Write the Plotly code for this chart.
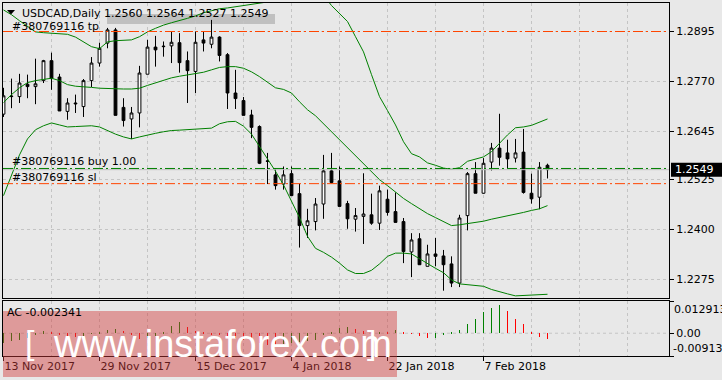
import plotly.graph_objects as go

# ---------------- data ----------------
bar_index = list(range(69))
date_tick_index = [0, 12, 24, 36, 48, 60]
date_tick_text = ["13 Nov 2017", "29 Nov 2017", "15 Dec 2017", "4 Jan 2018", "22 Jan 2018", "7 Feb 2018"]
grid_minor_index = [6, 18, 30, 42, 54, 66, 72, 78]

opens = [1.2688, 1.2732, 1.2732, 1.2763, 1.2757, 1.2772, 1.2822, 1.2781, 1.2695, 1.2716,
         1.2707, 1.2772, 1.2816, 1.2866, 1.2899, 1.2705, 1.2676, 1.2691, 1.2788, 1.2856,
         1.2857, 1.2859, 1.2867, 1.2822, 1.2795, 1.2874, 1.2863, 1.2881, 1.2837, 1.2741,
         1.2722, 1.2686, 1.2657, 1.2571, 1.2536, 1.2513, 1.2539, 1.2489, 1.2409, 1.2419,
         1.2463, 1.2546, 1.2521, 1.2464, 1.2425, 1.2432, 1.2436, 1.2415, 1.2475, 1.2444,
         1.2419, 1.2343, 1.2376, 1.2307, 1.2338, 1.2333, 1.2313, 1.2265, 1.2434, 1.2539,
         1.2490, 1.2568, 1.2603, 1.2591, 1.2578, 1.2593, 1.2490, 1.2480, 1.2560]
highs = [1.2754, 1.2777, 1.2789, 1.2787, 1.2827, 1.2824, 1.2842, 1.2789, 1.2728, 1.2737,
         1.2776, 1.2831, 1.2867, 1.2904, 1.2904, 1.2728, 1.2706, 1.2809, 1.2874, 1.2884,
         1.2870, 1.2895, 1.2891, 1.2845, 1.2895, 1.2895, 1.2924, 1.2883, 1.2841, 1.2799,
         1.2731, 1.2699, 1.2660, 1.2591, 1.2553, 1.2557, 1.2557, 1.2514, 1.2451, 1.2478,
         1.2586, 1.2591, 1.2557, 1.2471, 1.2453, 1.2540, 1.2489, 1.2509, 1.2499, 1.2492,
         1.2428, 1.2390, 1.2390, 1.2361, 1.2378, 1.2348, 1.2332, 1.2436, 1.2543, 1.2568,
         1.2578, 1.2616, 1.2689, 1.2624, 1.2626, 1.2651, 1.2539, 1.2568, 1.2564]
lows = [1.2681, 1.2703, 1.2716, 1.2728, 1.2713, 1.2766, 1.2749, 1.2696, 1.2674, 1.2691,
        1.2681, 1.2756, 1.2807, 1.2853, 1.2685, 1.2657, 1.2626, 1.2655, 1.2788, 1.2807,
        1.2832, 1.2816, 1.2792, 1.2716, 1.2741, 1.2845, 1.2853, 1.2820, 1.2701, 1.2701,
        1.2685, 1.2628, 1.2563, 1.2513, 1.2499, 1.2499, 1.2484, 1.2354, 1.2378, 1.2397,
        1.2426, 1.2515, 1.2457, 1.2401, 1.2394, 1.2363, 1.2411, 1.2398, 1.2434, 1.2417,
        1.2315, 1.2280, 1.2311, 1.2307, 1.2307, 1.2246, 1.2255, 1.2255, 1.2397, 1.2490,
        1.2489, 1.2547, 1.2559, 1.2553, 1.2567, 1.2489, 1.2464, 1.2450, 1.2527]
closes = [1.2734, 1.2733, 1.2766, 1.2757, 1.2764, 1.2822, 1.2777, 1.2696, 1.2716, 1.2714,
          1.2772, 1.2816, 1.2853, 1.2899, 1.2685, 1.2672, 1.2691, 1.2791, 1.2856, 1.2849,
          1.2858, 1.2868, 1.2817, 1.2797, 1.2868, 1.2866, 1.2881, 1.2835, 1.2741, 1.2727,
          1.2685, 1.2655, 1.2565, 1.2570, 1.2509, 1.2536, 1.2484, 1.2409, 1.2421, 1.2463,
          1.2546, 1.2517, 1.2457, 1.2426, 1.2434, 1.2438, 1.2415, 1.2496, 1.2442, 1.2417,
          1.2344, 1.2373, 1.2311, 1.2338, 1.2332, 1.2311, 1.2265, 1.2428, 1.2539, 1.2490,
          1.2565, 1.2603, 1.2580, 1.2576, 1.2591, 1.2492, 1.2476, 1.2555, 1.2549]

bb_upper = [1.2949, 1.2937, 1.2922, 1.2907, 1.2894, 1.2892, 1.2891, 1.2889, 1.2888, 1.2881,
            1.2869, 1.2857, 1.2852, 1.2869, 1.2872, 1.2873, 1.2874, 1.2882, 1.2894, 1.2903,
            1.2911, 1.2917, 1.2922, 1.2928, 1.2934, 1.2942, 1.2947, 1.2952, 1.2954, 1.2957,
            1.2961, 1.2964, 1.2967, 1.2969, 1.2972, 1.2988, 1.3012, 1.3009, 1.3016, 1.3016,
            1.2986, 1.2960, 1.2940, 1.2920, 1.2882, 1.2844, 1.2787, 1.2732, 1.2697, 1.2661,
            1.2619, 1.2589, 1.2581, 1.2566, 1.2560, 1.2553, 1.2550, 1.2554, 1.2570, 1.2575,
            1.2581, 1.2594, 1.2616, 1.2636, 1.2654, 1.2656, 1.2660, 1.2668, 1.2676]
bb_middle = [1.2717, 1.2737, 1.2754, 1.2767, 1.2772, 1.2775, 1.2778, 1.2772, 1.2762, 1.2758,
             1.2757, 1.2755, 1.2753, 1.2752, 1.2751, 1.2751, 1.2751, 1.2753, 1.2760, 1.2767,
             1.2773, 1.2779, 1.2783, 1.2786, 1.2789, 1.2793, 1.2799, 1.2805, 1.2807, 1.2807,
             1.2803, 1.2794, 1.2782, 1.2767, 1.2754, 1.2750, 1.2741, 1.2719, 1.2699, 1.2684,
             1.2664, 1.2644, 1.2625, 1.2605, 1.2584, 1.2563, 1.2544, 1.2524, 1.2509, 1.2492,
             1.2477, 1.2464, 1.2451, 1.2439, 1.2429, 1.2419, 1.2409, 1.2411, 1.2414, 1.2417,
             1.2420, 1.2425, 1.2429, 1.2433, 1.2437, 1.2442, 1.2447, 1.2451, 1.2459]
bb_lower = [1.2484, 1.2536, 1.2586, 1.2626, 1.2649, 1.2659, 1.2666, 1.2661, 1.2656, 1.2657,
            1.2658, 1.2659, 1.2656, 1.2646, 1.2638, 1.2631, 1.2626, 1.2631, 1.2636, 1.2640,
            1.2644, 1.2647, 1.2648, 1.2649, 1.2650, 1.2651, 1.2653, 1.2664, 1.2669, 1.2670,
            1.2658, 1.2638, 1.2607, 1.2579, 1.2545, 1.2511, 1.2470, 1.2429, 1.2382, 1.2352,
            1.2342, 1.2330, 1.2315, 1.2298, 1.2289, 1.2289, 1.2297, 1.2313, 1.2332, 1.2340,
            1.2340, 1.2338, 1.2326, 1.2313, 1.2302, 1.2291, 1.2273, 1.2263, 1.2261, 1.2259,
            1.2257, 1.2249, 1.2243, 1.2238, 1.2233, 1.2234, 1.2236, 1.2236, 1.2237]

ac_values = [-0.0040, -0.0033, -0.0026, -0.0018, -0.0008, 0.0007, 0.0002, -0.0006, -0.0013, -0.0016,
             -0.0011, -0.0003, 0.0004, 0.0013, 0.0016, 0.0009, -0.0006, -0.0022, -0.0018, -0.0010,
             0.0006, 0.0028, 0.0044, 0.0025, 0.0008, 0.0002, -0.0004, -0.0009, -0.0014, -0.0020,
             -0.0026, -0.0033, -0.0039, -0.0046, -0.0049, -0.0044, -0.0038, -0.0034, -0.0031, -0.0028,
             -0.0009, 0.0003, 0.0022, 0.0025, 0.0017, 0.0007, 0.0002, 0.0004, 0.0001, 0.0014,
             0.0006, -0.0002, -0.0010, -0.0021, -0.0019, -0.0006, 0.0001, 0.0013, 0.0036, 0.0059,
             0.0084, 0.0102, 0.0113, 0.0088, 0.0059, 0.0036, 0.0005, -0.0014, -0.002341]

price_tick_values = [1.2275, 1.2400, 1.2525, 1.2645, 1.2770, 1.2895]
price_tick_text = ["1.2275", "1.2400", "1.2525", "1.2645", "1.2770", "1.2895"]
tp_level = 1.2895
buy_level = 1.2552
sl_level = 1.2514
bid_level = 1.2549
ac_max = 0.012913
ac_min = -0.00913
symbol_title = "USDCAD,Daily"
header_values = ["1.2560", "1.2564", "1.2527", "1.2549"]
order_id = "#380769116"

# ---------------- styling ----------------
BG = "#e8e8e8"
GRID = "#c4c4c4"
GREEN = "#008000"
ORANGE = "#ff4500"
FONT = "DejaVu Sans"
WM_FONT = "Liberation Sans"
DASHDOT = "10px,3px,2px,3px"

W, H = 722, 380
ML, MR, MT, MB = 3, 53, 3, 24
PW, PH = W - ML - MR, H - MT - MB


def px(x):
    return (x - ML) / PW


def py(y):
    return (H - MB - y) / PH


main_bottom = py(298)
ac_top = py(301)
y_range = [1.222767, 1.296637]
x_range = [-0.0625, -0.0625 + PW / 8]

ac_colors = []
for i, v in enumerate(ac_values):
    if i == 0 or v > ac_values[i - 1]:
        ac_colors.append(GREEN)
    else:
        ac_colors.append("#ff0000")

fig = go.Figure()

fig.add_trace(go.Candlestick(
    x=bar_index, open=opens, high=highs, low=lows, close=closes,
    increasing=dict(fillcolor="white", line=dict(color="black", width=1)),
    decreasing=dict(fillcolor="black", line=dict(color="black", width=1)),
    whiskerwidth=0, xaxis="x", yaxis="y", hoverinfo="skip", showlegend=False))

for band in (bb_upper, bb_middle, bb_lower):
    fig.add_trace(go.Scatter(x=bar_index, y=band, mode="lines",
                             line=dict(color=GREEN, width=1),
                             xaxis="x", yaxis="y", hoverinfo="skip", showlegend=False))

fig.add_trace(go.Bar(x=bar_index, y=ac_values, width=0.125,
                     marker=dict(color=ac_colors, line=dict(width=0)),
                     xaxis="x2", yaxis="y2", hoverinfo="skip", showlegend=False))

common_x = dict(
    range=x_range, tickmode="array", tickvals=date_tick_index,
    showgrid=True, gridcolor=GRID, griddash="3px,3px", gridwidth=1,
    minor=dict(tickvals=grid_minor_index, showgrid=True, gridcolor=GRID,
               griddash="3px,3px", gridwidth=1, ticks=""),
    showline=True, mirror=True, linecolor="black", linewidth=1,
    zeroline=False, fixedrange=True, rangeslider=dict(visible=False),
)

fig.update_layout(
    width=W, height=H, margin=dict(l=ML, r=MR, t=MT, b=MB),
    paper_bgcolor=BG, plot_bgcolor=BG, showlegend=False,
    font=dict(family=FONT, size=11, color="black"),
    boxgap=0.5, bargap=0, hovermode=False,
    xaxis=dict(domain=[0, 1], anchor="y", showticklabels=False, ticks="", **common_x),
    xaxis2=dict(domain=[0, 1], anchor="y2", matches="x", ticktext=date_tick_text,
                ticks="outside", ticklen=4, tickcolor="black",
                ticklabelposition="outside right", **common_x),
    yaxis=dict(domain=[main_bottom, 1], anchor="x", side="right",
               range=y_range, tickmode="array",
               tickvals=price_tick_values, ticktext=price_tick_text,
               ticks="outside", ticklen=4, tickcolor="black",
               showgrid=True, gridcolor=GRID, griddash="3px,3px", gridwidth=1,
               showline=True, mirror=True, linecolor="black", linewidth=1,
               zeroline=False, fixedrange=True),
    yaxis2=dict(domain=[0, ac_top], anchor="x2", side="right",
                range=[ac_min, ac_max], tickmode="array",
                tickvals=[ac_min, 0, ac_max], ticktext=["", "0.00", ""],
                ticks="outside", ticklen=4, tickcolor="black", showgrid=False,
                showline=True, mirror=True, linecolor="black", linewidth=1,
                zeroline=False, fixedrange=True),
)

shapes = []
# AC zero level
shapes.append(dict(type="line", xref="x2 domain", yref="y2", x0=0, x1=1, y0=0, y1=0,
                   line=dict(color=GRID, width=1, dash="3px,3px"), layer="below"))
# header grey strip
shapes.append(dict(type="rect", xref="paper", yref="paper", x0=px(107), x1=px(275),
                   y0=py(24), y1=py(14), fillcolor="#c0c0c0", line=dict(width=0), layer="below"))
# order / price levels
level_specs = [(bid_level, "#c0c0c0", "solid"), (tp_level, ORANGE, DASHDOT),
               (buy_level, GREEN, DASHDOT), (sl_level, ORANGE, DASHDOT)]
for lvl, col, dash in level_specs:
    shapes.append(dict(type="line", xref="x domain", yref="y", x0=0, x1=1, y0=lvl, y1=lvl,
                       line=dict(color=col, width=1, dash=dash), layer="above"))
# symbol triangle
shapes.append(dict(type="path", xref="paper", yref="paper",
                   path=f"M {px(7)},{py(10)} L {px(15)},{py(10)} L {px(11)},{py(14.5)} Z",
                   fillcolor="black", line=dict(width=0), layer="above"))
# current price box
shapes.append(dict(type="rect", xref="paper", yref="y", x0=px(671), x1=px(723),
                   y0=bid_level - 0.00175, y1=bid_level + 0.00175,
                   fillcolor="black", line=dict(width=0), layer="above"))
# watermark box
shapes.append(dict(type="rect", xref="paper", yref="paper", x0=px(3), x1=px(397),
                   y0=py(377), y1=py(311), fillcolor="rgba(210,60,60,0.45)",
                   line=dict(width=0), layer="above"))
fig.update_layout(shapes=shapes)


def label(text, x, y, size=11, color="black", family=FONT, yref="paper", xanchor="left", yanchor="middle"):
    return dict(text=text, x=x, y=y, xref="paper", yref=yref, xanchor=xanchor, yanchor=yanchor,
                showarrow=False, borderpad=0, borderwidth=0,
                font=dict(family=family, size=size, color=color))


ann = [
    label(symbol_title, px(21.5), py(13.3)),
    label(" ".join(header_values), px(104), py(13.3)),
    label(f"{order_id} tp", px(11.5), py(26.7)),
    label(f"{order_id} buy 1.00", px(11.5), py(161.7)),
    label(f"{order_id} sl", px(11.5), py(177.3)),
    label(f"AC {ac_values[-1]:.6f}", px(7.3), py(312.5)),
    label(f"{ac_max:.6f}", px(674), py(309.3)),
    label(f"{ac_min:.6f}", px(673), py(348.3)),
    label(f"{bid_level:.4f}", px(675), bid_level, color="white", yref="y"),
    label("[", px(25), py(342), size=34, color="white", family=WM_FONT),
    label("www.instaforex.com", px(53), py(365), size=38, color="white",
          family=WM_FONT, yanchor="bottom"),
    label("]", px(367), py(342), size=34, color="white", family=WM_FONT),
]
fig.update_layout(annotations=ann)

fig.write_html("out.html", config={"displayModeBar": False})
